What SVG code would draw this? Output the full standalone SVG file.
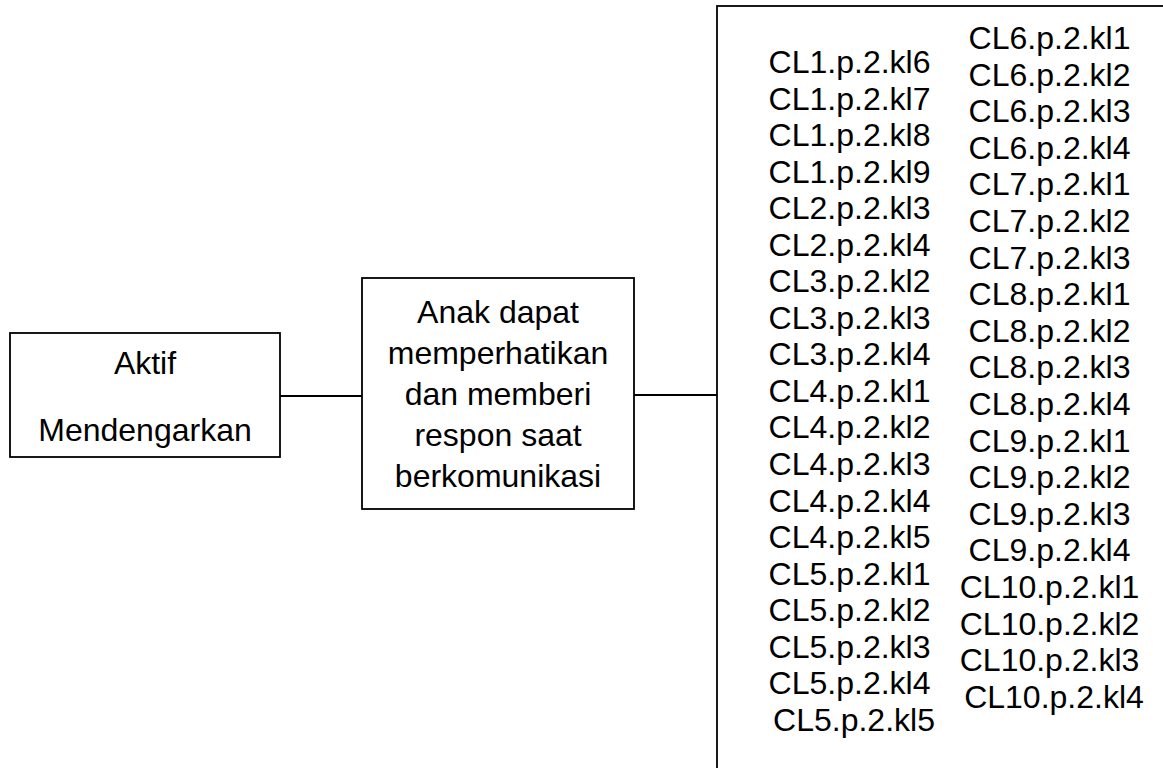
<svg xmlns="http://www.w3.org/2000/svg" width="1163" height="768" viewBox="0 0 1163 768">
  <style>
    .box { fill: #ffffff; stroke: #000000; stroke-width: 1.8; }
    .lbl { font-family: "Liberation Sans", Arial, sans-serif; font-size: 32px; fill: #000000; text-anchor: middle; }
    .conn { stroke: #000000; stroke-width: 1.8; fill: none; }
  </style>
  <rect width="1163" height="768" fill="#ffffff"/>

  <g id="connectors">
    <line class="conn" x1="280" y1="396" x2="362" y2="396"/>
    <line class="conn" x1="634" y1="395" x2="717" y2="395"/>
  </g>

  <g id="node-aktif">
    <rect class="box" x="10" y="333" width="270" height="124"/>
    <text class="lbl" x="145" y="374">Aktif</text>
    <text class="lbl" x="145" y="441">Mendengarkan</text>
  </g>

  <g id="node-indikator">
    <rect class="box" x="362" y="278" width="272" height="231"/>
    <text class="lbl" x="498" y="323">Anak dapat</text>
    <text class="lbl" x="498" y="364">memperhatikan</text>
    <text class="lbl" x="498" y="405">dan memberi</text>
    <text class="lbl" x="498" y="446">respon saat</text>
    <text class="lbl" x="498" y="487">berkomunikasi</text>
  </g>

  <g id="node-kode">
    <rect class="box" x="717" y="6" width="500" height="800"/>
    <text class="lbl" x="854" y="73">
      <tspan x="854" dy="0">CL1.p.2.kl6</tspan>
      <tspan x="854" dy="36.55">CL1.p.2.kl7</tspan>
      <tspan x="854" dy="36.55">CL1.p.2.kl8</tspan>
      <tspan x="854" dy="36.55">CL1.p.2.kl9</tspan>
      <tspan x="854" dy="36.55">CL2.p.2.kl3</tspan>
      <tspan x="854" dy="36.55">CL2.p.2.kl4</tspan>
      <tspan x="854" dy="36.55">CL3.p.2.kl2</tspan>
      <tspan x="854" dy="36.55">CL3.p.2.kl3</tspan>
      <tspan x="854" dy="36.55">CL3.p.2.kl4</tspan>
      <tspan x="854" dy="36.55">CL4.p.2.kl1</tspan>
      <tspan x="854" dy="36.55">CL4.p.2.kl2</tspan>
      <tspan x="854" dy="36.55">CL4.p.2.kl3</tspan>
      <tspan x="854" dy="36.55">CL4.p.2.kl4</tspan>
      <tspan x="854" dy="36.55">CL4.p.2.kl5</tspan>
      <tspan x="854" dy="36.55">CL5.p.2.kl1</tspan>
      <tspan x="854" dy="36.55">CL5.p.2.kl2</tspan>
      <tspan x="854" dy="36.55">CL5.p.2.kl3</tspan>
      <tspan x="854" dy="36.55">CL5.p.2.kl4</tspan>
      <tspan x="854" dy="36.55">CL5.p.2.kl5</tspan>
    </text>
    <text class="lbl" x="1054" y="49">
      <tspan x="1054" dy="0">CL6.p.2.kl1</tspan>
      <tspan x="1054" dy="36.6">CL6.p.2.kl2</tspan>
      <tspan x="1054" dy="36.6">CL6.p.2.kl3</tspan>
      <tspan x="1054" dy="36.6">CL6.p.2.kl4</tspan>
      <tspan x="1054" dy="36.6">CL7.p.2.kl1</tspan>
      <tspan x="1054" dy="36.6">CL7.p.2.kl2</tspan>
      <tspan x="1054" dy="36.6">CL7.p.2.kl3</tspan>
      <tspan x="1054" dy="36.6">CL8.p.2.kl1</tspan>
      <tspan x="1054" dy="36.6">CL8.p.2.kl2</tspan>
      <tspan x="1054" dy="36.6">CL8.p.2.kl3</tspan>
      <tspan x="1054" dy="36.6">CL8.p.2.kl4</tspan>
      <tspan x="1054" dy="36.6">CL9.p.2.kl1</tspan>
      <tspan x="1054" dy="36.6">CL9.p.2.kl2</tspan>
      <tspan x="1054" dy="36.6">CL9.p.2.kl3</tspan>
      <tspan x="1054" dy="36.6">CL9.p.2.kl4</tspan>
      <tspan x="1054" dy="36.6">CL10.p.2.kl1</tspan>
      <tspan x="1054" dy="36.6">CL10.p.2.kl2</tspan>
      <tspan x="1054" dy="36.6">CL10.p.2.kl3</tspan>
      <tspan x="1054" dy="36.6">CL10.p.2.kl4</tspan>
    </text>
  </g>
</svg>
